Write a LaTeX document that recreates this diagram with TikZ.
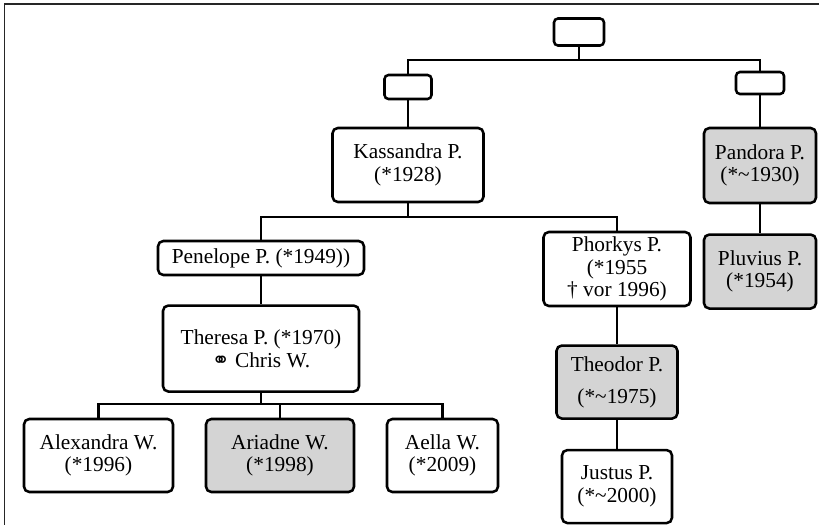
\documentclass[tikz,border=0pt]{standalone}
\usepackage{fontspec}
\setmainfont{Liberation Serif}
\newfontfamily\symfont{DejaVu Sans}
\usetikzlibrary{positioning}

\tikzset{
  person/.style={draw, line width=1.9pt, rounded corners=4pt, align=center, inner sep=2pt,
    font=\fontsize{16}{17}\selectfont, minimum height=54.75pt},
  gone/.style={person, fill=black!17},
  blank/.style={draw, line width=1.9pt, rounded corners=3pt},
  link/.style={line width=1.9pt}
}

\begin{document}
\begin{tikzpicture}[x=0.75pt, y=-0.75pt]
  \useasboundingbox (0,0) rectangle (819,525);
  \draw[line width=1.3pt, black!85] (4.5,525) -- (4.5,4) -- (819,4);

  % oberste Generation
  \node[blank, minimum width=37.5pt, minimum height=20.25pt] (top) at (579,32) {};
  \node[blank, minimum width=35.25pt, minimum height=18pt] (lbox) at (408,87) {};
  \node[blank, minimum width=36pt, minimum height=16.5pt] (rbox) at (760,83) {};

  \node[person, minimum width=113.25pt, minimum height=55.5pt] (kass) at (408,165) {Kassandra P.\\(*1928)};
  \node[gone, minimum width=84pt, minimum height=56.25pt] (pand) at (760,165.5) {Pandora P.\\(*\textasciitilde1930)};
  \node[gone, minimum width=84pt, minimum height=55.5pt, below=21.75pt of pand] (pluv) {Pluvius P.\\(*1954)};

  % Kinder von Kassandra
  \node[person, minimum width=154.5pt, minimum height=25.5pt] (pen) at (261,258) {Penelope P. (*1949))};
  \node[person, minimum width=110.25pt, minimum height=55.5pt] (phor) at (617,269) {Phorkys P.\\(*1955\\† vor 1996)};

  \node[person, minimum width=147pt, minimum height=64.5pt, below=21pt of pen] (ther) {Theresa P. (*1970)\\{\symfont\fontsize{16}{16}\selectfont ⚭} Chris W.};
  \node[gone, minimum width=90.75pt, below=27.75pt of phor] (theo) {Theodor P.\\[7pt](*\textasciitilde1975)};
  \node[person, minimum width=82.5pt, below=21.75pt of theo] (just) {Justus P.\\(*\textasciitilde2000)};

  % Enkel
  \node[person, minimum width=111.75pt] (alex) at (98.5,455.5) {Alexandra W.\\(*1996)};
  \node[gone, minimum width=111pt] (ari) at (280,455.5) {Ariadne W.\\(*1998)};
  \node[person, minimum width=83.25pt] (aella) at (442.5,455.5) {Aella W.\\(*2009)};

  % Verbindungen
  \coordinate (j1) at (579,60);
  \coordinate (j2) at (408,217);
  \coordinate (j3) at (261,404);
  \draw[link] (top) -- (j1);
  \draw[link] (lbox.north) |- (j1) -| (rbox.north);
  \draw[link] (lbox) -- (kass);
  \draw[link] (rbox) -- (pand);
  \draw[link] (pand) -- (pluv);
  \draw[link] (kass) -- (j2);
  \draw[link] (pen.north) |- (j2) -| (phor.north);
  \draw[link] (pen) -- (ther);
  \draw[link] (phor) -- (theo);
  \draw[link] (theo) -- (just);
  \draw[link] (ther) -- (j3);
  \draw[link] (alex.north) |- (j3) -| (aella.north);
  \draw[link] (j3) -| (ari.north);
\end{tikzpicture}
\end{document}
